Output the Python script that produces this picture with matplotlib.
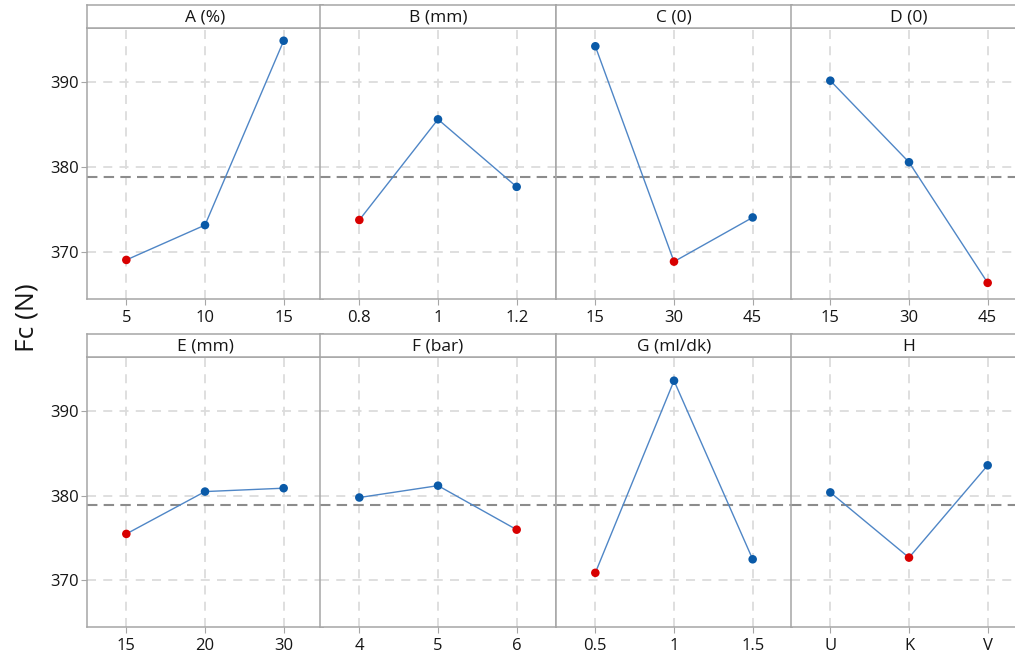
import matplotlib
matplotlib.use("Agg")
import matplotlib.pyplot as plt
import numpy as np

plt.rcParams['font.family'] = ['Open Sans', 'DejaVu Sans']

# ---- data ----
factor_titles = ["A (%)", "B (mm)", "C (0)", "D (0)",
                 "E (mm)", "F (bar)", "G (ml/dk)", "H"]
level_labels = [
    ["5", "10", "15"],
    ["0.8", "1", "1.2"],
    ["15", "30", "45"],
    ["15", "30", "45"],
    ["15", "20", "30"],
    ["4", "5", "6"],
    ["0.5", "1", "1.5"],
    ["U", "K", "V"],
]
fc_A = [369.1, 373.2, 394.9]
fc_B = [373.8, 385.65, 377.7]
fc_C = [394.25, 368.9, 374.1]
fc_D = [390.2, 380.6, 366.4]
fc_E = [375.5, 380.5, 380.9]
fc_F = [379.8, 381.2, 376.0]
fc_G = [370.9, 393.6, 372.5]
fc_H = [380.4, 372.7, 383.6]
series = [fc_A, fc_B, fc_C, fc_D, fc_E, fc_F, fc_G, fc_H]
grand_mean = 378.9
y_ticks = [370, 380, 390]

# ---- layout ----
W, H = 1015, 659
fig = plt.figure(figsize=(W / 100, H / 100), dpi=100)

lefts_px = [87, 320, 556, 791]
width_px = 236
rows = [(28, 299, 5), (357, 627, 334)]  # plot top, plot bottom, header top

spine_c = "#a6a6a6"
grid_c = "#dcdcdc"
line_c = "#4f86c6"
dot_blue = "#0a5aa8"
dot_red = "#d80000"
text_c = "#151515"

for i, (title, labs, vals) in enumerate(zip(factor_titles, level_labels, series)):
    r, c = divmod(i, 4)
    top, bot, htop = rows[r]
    left = lefts_px[c] / W
    wid = width_px / W
    ax = fig.add_axes([left, 1 - bot / H, wid, (bot - top) / H])
    x = np.arange(len(vals))
    ax.set_xlim(-0.5, 2.5)
    ax.set_ylim(364.5, 396.4)
    for yt in y_ticks:
        ax.axhline(yt, color=grid_c, lw=1.3, ls=(0, (5, 4)), zorder=1)
    for xt in x:
        ax.axvline(xt, color=grid_c, lw=1.3, ls=(0, (5, 4)), zorder=1)
    ax.axhline(grand_mean, color="#8c8c8c", lw=1.5, ls=(0, (5, 3)), zorder=2)
    ax.plot(x, vals, color=line_c, lw=1.0, zorder=3)
    imin = int(np.argmin(vals))
    cols = [dot_red if k == imin else dot_blue for k in range(len(vals))]
    ax.scatter(x, vals, s=38, c=cols, zorder=4, linewidths=0)
    ax.set_xticks(x)
    ax.set_xticklabels(labs, fontsize=12, color=text_c)
    ax.set_yticks(y_ticks)
    if c == 0:
        ax.set_yticklabels([str(v) for v in y_ticks], fontsize=12, color=text_c)
        ax.tick_params(axis='y', length=4, color=spine_c, pad=2)
    else:
        ax.tick_params(axis='y', length=0, labelleft=False)
    ax.tick_params(axis='x', length=4, color=spine_c, pad=4)
    for s in ax.spines.values():
        s.set_color(spine_c)
        s.set_linewidth(1.1)

    hax = fig.add_axes([left, 1 - top / H, wid, (top - htop) / H])
    hax.set_xticks([]); hax.set_yticks([])
    for s in hax.spines.values():
        s.set_color(spine_c)
        s.set_linewidth(1.1)
    hax.text(0.5, 0.45, title, ha="center", va="center", fontsize=12.5,
             color=text_c, transform=hax.transAxes)

fig.text(27 / W, 1 - 318 / H, "Fc (N)", rotation=90, ha="center", va="center",
         fontsize=19, color=text_c)

fig.savefig("out.png", dpi=100)
